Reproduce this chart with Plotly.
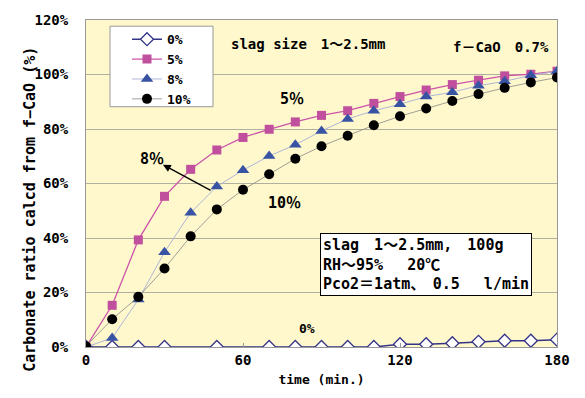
import plotly.graph_objects as go

time_min = [0, 10, 20, 30, 40, 50, 60, 70, 80, 90, 100, 110, 120, 130, 140, 150, 160, 170, 180]
s0 = [0, 0, 0, 0, None, 0, None, 0, 0, 0, 0, 0, 1.0, 1.0, 1.4, 1.9, 2.3, 2.3, 2.7]
s5 = [0, 15.3, 39.3, 55.3, 65.2, 72.3, 76.9, 79.9, 82.6, 85.0, 86.7, 89.4, 91.9, 94.3, 96.3, 97.9, 99.5, 100.1, 101.2]
s8 = [0, 3.3, 17.4, 34.8, 49.3, 58.9, 64.9, 70.1, 74.2, 79.3, 83.7, 86.7, 89.1, 91.9, 93.5, 95.9, 97.5, 99.7, 101.2]
s10 = [0.3, 10.2, 18.4, 28.8, 40.6, 50.5, 57.7, 63.4, 69.1, 73.7, 77.5, 81.4, 84.7, 87.5, 90.3, 92.8, 95.1, 97.1, 98.9]
series_names = ["0%", "5%", "8%", "10%"]

FONT = "DejaVu Sans Mono, Noto Sans CJK JP"

fig = go.Figure()
fig.add_trace(go.Scatter(x=time_min, y=s0, name=series_names[0], mode="lines+markers", connectgaps=True,
                         line=dict(color="#333388", width=1.5),
                         marker=dict(symbol="diamond", size=10, color="white", line=dict(color="#333388", width=1.3))))
fig.add_trace(go.Scatter(x=time_min, y=s5, name=series_names[1], mode="lines+markers",
                         line=dict(color="#CC55AA", width=1.3),
                         marker=dict(symbol="square", size=9, color="#C0509E")))
fig.add_trace(go.Scatter(x=time_min, y=s8, name=series_names[2], mode="lines+markers",
                         line=dict(color="#AEB6D8", width=1),
                         marker=dict(symbol="triangle-up", size=11, color="#3953A4")))
fig.add_trace(go.Scatter(x=time_min, y=s10, name=series_names[3], mode="lines+markers",
                         line=dict(color="#888888", width=0.8),
                         marker=dict(symbol="circle", size=10, color="black")))

ann_font = dict(family=FONT, size=14, color="black", weight="bold")
big_font = dict(family=FONT, size=15, color="black", weight="bold")
annotations = [
    dict(x=84.8, y=111.2, text="slag size　1～2.5mm", showarrow=False, font=ann_font),
    dict(x=158.6, y=110.2, text="f－CaO　0.7%", showarrow=False, font=ann_font),
    dict(x=78.7, y=91, text="5％", showarrow=False, font=big_font),
    dict(x=25.2, y=69, text="8％", showarrow=False, font=big_font),
    dict(x=76, y=52.9, text="10％", showarrow=False, font=big_font),
    dict(x=84.5, y=6.7, text="0%", showarrow=False, font=dict(family=FONT, size=13, color="black", weight="bold")),
    dict(x=29.4, y=66.9, ax=48.2, ay=57.2, axref="x", ayref="y", text="", showarrow=True,
         arrowhead=2, arrowsize=1.2, arrowwidth=1.3, arrowcolor="black"),
    dict(x=89.4, y=41.8, xanchor="left", yanchor="top", align="left", showarrow=False,
         text="slag　1～2.5mm,　100g<br>RH～95%　 20℃<br>Pco2＝1atm、　0.5　 l/min",
         font=dict(family=FONT, size=15, color="black"),
         bgcolor="white", bordercolor="black", borderwidth=1, borderpad=2),
    dict(xref="paper", yref="paper", x=-0.144, y=0.42, textangle=-90, showarrow=False,
         text="Carbonate ratio calcd from f−CaO (%)", font=dict(family=FONT, size=15, color="black", weight="bold")),
]

# legend frame (paper coords)
shapes = [dict(type="rect", xref="paper", yref="paper",
               x0=(110 - 86) / 471, x1=(213 - 86) / 471,
               y0=(346.7 - 102) / 333, y1=(346.7 - 20) / 333,
               line=dict(color="#999999", width=1), fillcolor="white", layer="above")]

fig.update_layout(
    width=585, height=398,
    margin=dict(l=86, r=28, t=14, b=51),
    paper_bgcolor="white",
    plot_bgcolor="#FFF8CC",
    font=dict(family=FONT, size=14, color="black", weight="bold"),
    showlegend=True,
    legend=dict(x=(127 - 86) / 471, y=(346.7 - 18) / 333, xanchor="left", yanchor="top",
                bgcolor="rgba(0,0,0,0)", borderwidth=0,
                font=dict(family=FONT, size=13, weight="bold"), tracegroupgap=0),
    annotations=annotations,
    shapes=shapes,
    xaxis=dict(range=[0, 180], dtick=60, tick0=0, showgrid=False, zeroline=False,
               showline=True, linecolor="#999999", mirror=True, ticks="inside", ticklen=4,
               tickcolor="#999999", title=dict(text="time (min.)", standoff=8,
                                               font=dict(family=FONT, size=13, weight="bold"))),
    yaxis=dict(range=[0, 120], dtick=20, ticksuffix="%", showgrid=True, gridcolor="#B0B0A0",
               zeroline=False, showline=True, linecolor="#999999", mirror=True, ticks="",
               ticklabelstandoff=14),
)

fig.write_html("out.html")
